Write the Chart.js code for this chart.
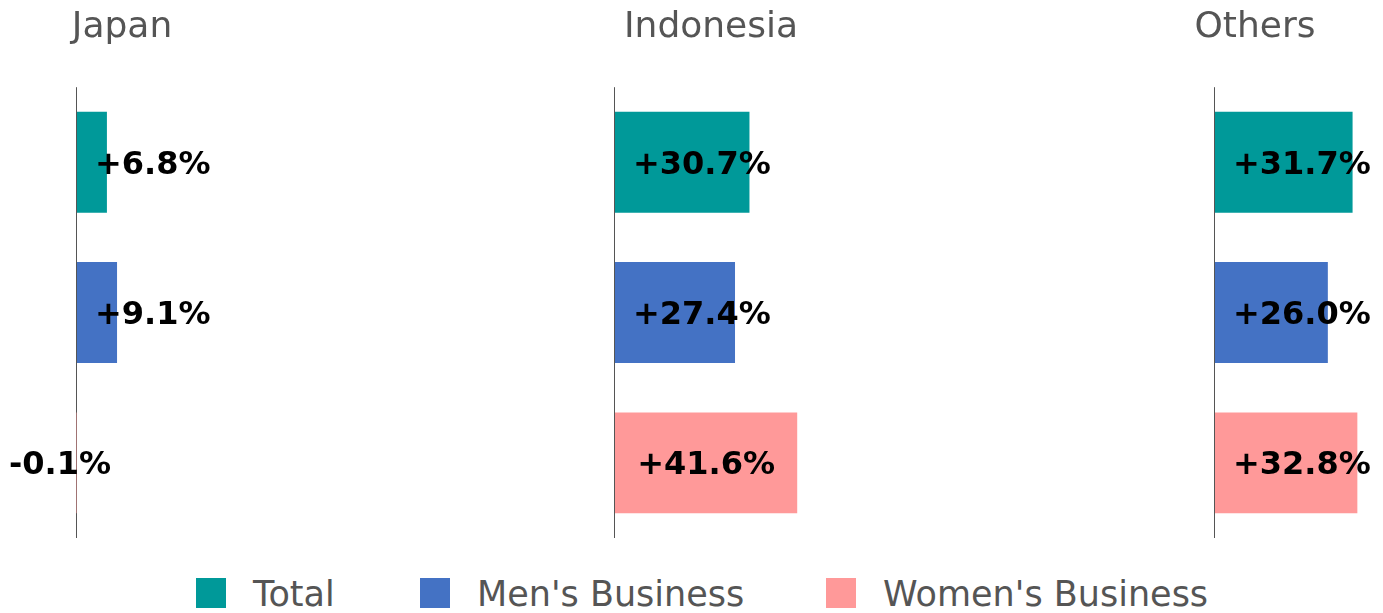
<!DOCTYPE html>
<html lang="en">
<head>
  <meta charset="utf-8">
  <title>Growth by region</title>
  <script src="https://cdn.jsdelivr.net/npm/chart.js@4"></script>
  <style>
    html, body { margin: 0; padding: 0; background: #fff; }
    body { width: 1383px; height: 613px; position: relative; overflow: hidden; font-family: "DejaVu Sans", sans-serif; }
    .panel { position: absolute; top: 0; height: 538px; }
    .item { position: absolute; top: 578px; display: flex; align-items: center; }
    .item .box { width: 30px; height: 30px; margin-right: 27px; }
    .item span { font-size: 35px; line-height: 30px; color: #555; white-space: nowrap; position: relative; top: 1px; }
  </style>
</head>
<body>
  <div class="panel" style="left:0px;width:244px"><canvas id="c0"></canvas></div>
  <div class="panel" style="left:511px;width:400px"><canvas id="c1"></canvas></div>
  <div class="panel" style="left:1127px;width:256px"><canvas id="c2"></canvas></div>
  <div id="legend"></div>
  <script>
    // data
    var regions = ['Japan', 'Indonesia', 'Others'];
    var categories = ['Total', "Men's Business", "Women's Business"];
    var japan = [6.8, 9.1, -0.1];
    var indonesia = [30.7, 27.4, 41.6];
    var others = [31.7, 26.0, 32.8];
    var colors = ['#009999', '#4472C4', '#FF9999'];

    // layout: where zero sits on the page and how many px per percent point
    var panels = [
      { id: 'c0', left: 0, width: 244, zero: 77, ppu: 4.40, values: japan },
      { id: 'c1', left: 511, width: 400, zero: 615, ppu: 4.38, values: indonesia },
      { id: 'c2', left: 1127, width: 256, zero: 1215, ppu: 4.34, values: others }
    ];
    var legendLeft = [196, 420, 826];

    function fmt(v) {
      return (v > 0 ? '+' : '') + v.toFixed(1) + '%';
    }

    var zeroLine = {
      id: 'zeroLine',
      beforeDatasetsDraw: function (chart) {
        var ctx = chart.ctx, a = chart.chartArea;
        var x = Math.floor(chart.scales.x.getPixelForValue(0)) - 0.5;
        ctx.save();
        ctx.strokeStyle = '#555';
        ctx.lineWidth = 1;
        ctx.beginPath();
        ctx.moveTo(x, a.top);
        ctx.lineTo(x, a.bottom);
        ctx.stroke();
        ctx.restore();
      }
    };

    var barLabels = {
      id: 'barLabels',
      afterDatasetsDraw: function (chart) {
        var ctx = chart.ctx;
        var base = chart.scales.x.getPixelForValue(0);
        var meta = chart.getDatasetMeta(0);
        var vals = chart.data.datasets[0].data;
        ctx.save();
        ctx.font = 'bold 32px "DejaVu Sans"';
        ctx.fillStyle = '#000';
        ctx.textBaseline = 'middle';
        ctx.textAlign = 'center';
        meta.data.forEach(function (bar, i) {
          var t = fmt(vals[i]);
          var w = ctx.measureText(t).width;
          var cx;
          if (vals[i] >= 0) {
            cx = Math.max(base + 18 + w / 2, (base + bar.x) / 2);
          } else {
            cx = base - 17;
          }
          ctx.fillText(t, cx, bar.y + 3);
        });
        ctx.restore();
      }
    };

    panels.forEach(function (p, k) {
      new Chart(document.getElementById(p.id), {
        type: 'bar',
        data: {
          labels: categories,
          datasets: [{
            data: p.values,
            backgroundColor: colors,
            borderWidth: 0,
            categoryPercentage: 1,
            barPercentage: 0.672
          }]
        },
        options: {
          indexAxis: 'y',
          responsive: true,
          maintainAspectRatio: false,
          animation: false,
          layout: { padding: 0 },
          scales: {
            x: {
              display: false,
              min: -(p.zero - p.left) / p.ppu,
              max: (p.left + p.width - p.zero) / p.ppu
            },
            y: { display: false }
          },
          plugins: {
            legend: { display: false },
            tooltip: { enabled: false },
            title: {
              display: true,
              text: regions[k],
              color: '#555',
              font: { family: 'DejaVu Sans', size: 36, weight: 'normal' },
              padding: { top: 6, bottom: 38 }
            }
          }
        },
        plugins: [zeroLine, barLabels]
      });
    });

    var lg = document.getElementById('legend');
    categories.forEach(function (c, i) {
      var it = document.createElement('div');
      it.className = 'item';
      it.style.left = legendLeft[i] + 'px';
      it.innerHTML = '<div class="box" style="background:' + colors[i] + '"></div><span>' + c + '</span>';
      lg.appendChild(it);
    });
  </script>
</body>
</html>
